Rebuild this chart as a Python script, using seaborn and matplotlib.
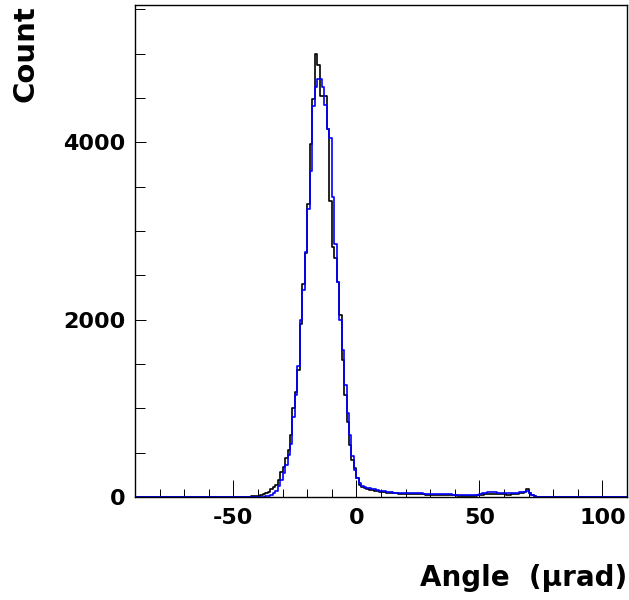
import numpy as np
import pandas as pd
import matplotlib
matplotlib.use("Agg")
import matplotlib.pyplot as plt
import seaborn as sns
from matplotlib.ticker import MultipleLocator

sns.set_theme(style="white")
plt.rcParams['font.family'] = ['DejaVu Sans']
plt.rcParams['axes.unicode_minus'] = False
plt.rcParams['text.color'] = 'black'
plt.rcParams['axes.labelcolor'] = 'black'
plt.rcParams['xtick.color'] = 'black'
plt.rcParams['ytick.color'] = 'black'

# Histogram range (µrad) with 1 µrad bins; counts listed per bin, lower edges -90 ... 109
bin_lo, bin_hi = -90, 110

black_counts = [
    0, 0, 0, 0, 0, 0, 0, 0, 0, 0,            # -90
    0, 0, 0, 0, 0, 0, 0, 0, 0, 0,            # -80
    0, 0, 0, 0, 0, 0, 0, 0, 0, 0,            # -70
    0, 0, 0, 0, 0, 0, 0, 0, 0, 0,            # -60
    1, 1, 2, 2, 3, 4, 5, 7, 9, 12,           # -50
    16, 23, 30, 42, 60, 87, 110, 136, 192, 280,          # -40
    343, 437, 531, 700, 1000, 1190, 1435, 1950, 2400, 2750,  # -30
    3300, 3980, 4490, 5000, 4870, 4520, 4520, 4520, 4150, 3340,  # -20
    2820, 2700, 2420, 2050, 1550, 1150, 850, 590, 420, 330,  # -10
    210, 140, 112, 96, 90, 84, 78, 70, 64, 60,  # 0
    56, 52, 48, 46, 44, 42, 40, 39, 38, 37,     # 10
    36, 35, 34, 33, 32, 31, 30, 29, 28, 27,     # 20
    26, 25, 24, 23, 22, 22, 21, 20, 19, 18,     # 30
    17, 16, 14, 13, 12, 12, 12, 13, 15, 18,     # 40
    22, 26, 30, 34, 38, 36, 33, 30, 30, 32,     # 50
    30, 28, 28, 30, 32, 35, 40, 48, 60, 85,     # 60
    45, 20, 8, 3, 1, 1, 0, 0, 0, 0,             # 70
    0, 0, 0, 0, 0, 0, 0, 0, 0, 0,               # 80
    0, 0, 0, 0, 0, 0, 0, 0, 0, 0,               # 90
    0, 0, 0, 0, 0, 0, 0, 0, 0, 0,               # 100
]

blue_counts = [
    0, 0, 0, 0, 0, 0, 0, 0, 0, 0,            # -90
    0, 0, 0, 0, 0, 0, 0, 0, 0, 0,            # -80
    0, 0, 0, 0, 0, 0, 0, 0, 0, 0,            # -70
    0, 0, 0, 0, 0, 0, 0, 0, 0, 0,            # -60
    0, 0, 0, 0, 0, 0, 0, 0, 1, 1,            # -50
    2, 3, 5, 8, 13, 22, 40, 70, 120, 190,    # -40
    270, 360, 470, 600, 900, 1150, 1480, 2000, 2339, 2760,   # -30
    3250, 3676, 4410, 4620, 4712, 4712, 4620, 4420, 4150, 4050,  # -20
    3380, 2850, 2420, 2000, 1660, 1265, 950, 700, 460, 300,  # -10
    215, 155, 125, 110, 105, 98, 90, 85, 75, 72,  # 0
    70, 64, 60, 58, 52, 50, 49, 48, 47, 45,       # 10
    44, 43, 42, 42, 41, 40, 40, 39, 38, 36,       # 20
    35, 34, 33, 32, 31, 30, 30, 29, 29, 28,       # 30
    28, 27, 26, 25, 25, 24, 24, 23, 24, 28,       # 40
    38, 42, 45, 55, 60, 58, 52, 49, 48, 45,       # 50
    43, 42, 42, 43, 45, 48, 52, 55, 58, 66,       # 60
    50, 28, 10, 4, 2, 1, 0, 0, 0, 0,              # 70
    0, 0, 0, 0, 0, 0, 0, 0, 0, 0,                 # 80
    0, 0, 0, 0, 0, 0, 0, 0, 0, 0,                 # 90
    0, 0, 0, 0, 0, 0, 0, 0, 0, 0,                 # 100
]

x_label = "Angle  (\u03bcrad)"
y_label = "Count"

bin_width = 1.0
centers = np.arange(bin_lo, bin_hi, bin_width) + bin_width / 2
df = pd.DataFrame({"angle": centers, "black": black_counts, "blue": blue_counts})

fig = plt.figure(figsize=(6.29, 6.00), dpi=100)
ax = fig.add_axes([135 / 629, 103 / 600, 492 / 629, 492 / 600])

sns.histplot(data=df, x="angle", weights="black", binwidth=bin_width,
             binrange=(bin_lo, bin_hi), element="step",
             fill=False, color="black", linewidth=1.2, ax=ax)
sns.histplot(data=df, x="angle", weights="blue", binwidth=bin_width,
             binrange=(bin_lo, bin_hi), element="step",
             fill=False, color="#0000ff", linewidth=1.2, ax=ax)

ax.set_xlim(bin_lo, bin_hi)
ax.set_ylim(0, 5550)

ax.xaxis.set_major_locator(MultipleLocator(50))
ax.xaxis.set_minor_locator(MultipleLocator(10))
ax.yaxis.set_major_locator(MultipleLocator(2000))
ax.yaxis.set_minor_locator(MultipleLocator(500))

ax.tick_params(axis="x", which="major", direction="in", length=12, width=0.7,
               color="black", labelcolor="black", labelsize=16, pad=8,
               bottom=True, top=False)
ax.tick_params(axis="x", which="minor", direction="in", length=6, width=0.7,
               color="black", bottom=True, top=False)
ax.tick_params(axis="y", which="major", direction="in", length=8, width=0.7,
               color="black", labelcolor="black", labelsize=16, pad=7,
               left=True, right=False)
ax.tick_params(axis="y", which="minor", direction="in", length=7, width=0.7,
               color="black", left=True, right=False)
for lab in ax.get_xticklabels() + ax.get_yticklabels():
    lab.set_fontweight("bold")

for sp in ax.spines.values():
    sp.set_color("black")
    sp.set_linewidth(1.0)

ax.set_xlabel(x_label, fontsize=20, fontweight="bold", loc="right", color="black")
ax.set_ylabel(y_label, fontsize=21, fontweight="bold", loc="top", color="black")
ax.xaxis.set_label_coords(1.0, -0.137)
ax.yaxis.set_label_coords(-0.195, 1.0)

fig.savefig("out.png", dpi=100)
